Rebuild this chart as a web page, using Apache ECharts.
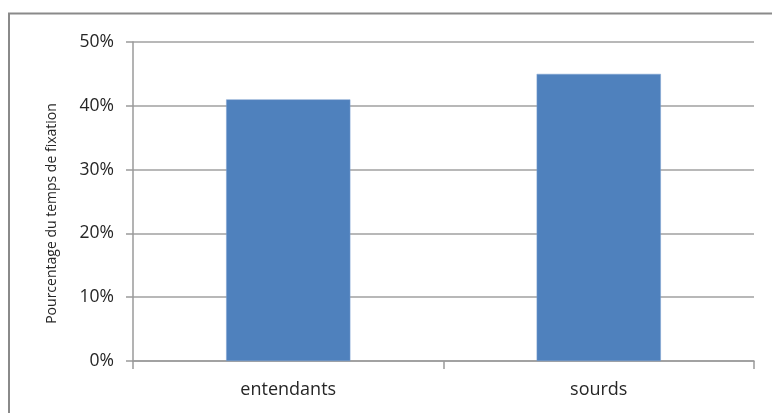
<!DOCTYPE html>
<html>
<head>
<meta charset="utf-8">
<style>
  html, body { margin: 0; padding: 0; background: #fff; }
  #chart { width: 772px; height: 413px; }
</style>
<script src="https://cdn.jsdelivr.net/npm/echarts@6/dist/echarts.min.js"></script>
</head>
<body>
<div id="chart"></div>
<script>
// Groups and their share of fixation time (%)
const groups = ['entendants', 'sourds'];
const fixationShare = [41, 45];
const yTicks = [0, 10, 20, 30, 40, 50];
const yTitle = 'Pourcentage du temps de fixation';

const chart = echarts.init(document.getElementById('chart'), null, { renderer: 'canvas' });

const FONT = '"Open Sans", "DejaVu Sans", sans-serif';

chart.setOption({
  animation: false,
  backgroundColor: '#ffffff',
  grid: { left: 133, right: 18, top: 42, bottom: 52, containLabel: false },
  graphic: [{
    type: 'polyline',
    shape: { points: [[9, 413], [9, 13.5], [772, 13.5]] },
    style: { stroke: '#8a8a8a', lineWidth: 2, fill: null },
    silent: true
  }],
  xAxis: {
    type: 'category',
    data: groups,
    boundaryGap: true,
    axisLine: { show: true, lineStyle: { color: '#9a9a9a', width: 1.5 } },
    axisTick: { show: true, length: 8, lineStyle: { color: '#9a9a9a', width: 1.5 } },
    axisLabel: { color: '#262626', fontFamily: FONT, fontSize: 18, margin: 20 }
  },
  yAxis: {
    type: 'value',
    min: yTicks[0],
    max: yTicks[yTicks.length - 1],
    interval: 10,
    name: yTitle,
    nameLocation: 'middle',
    nameGap: 74,
    nameRotate: 90,
    nameTextStyle: {
      color: '#262626', fontFamily: FONT, fontSize: 14,
      padding: [0, 24, 0, 0]
    },
    axisLine: { show: true, lineStyle: { color: '#9a9a9a', width: 1.5 } },
    axisTick: { show: true, length: 7, lineStyle: { color: '#9a9a9a', width: 1.5 } },
    axisLabel: {
      color: '#262626', fontFamily: FONT, fontSize: 17.5, margin: 19,
      formatter: v => v + '%'
    },
    splitLine: { show: true, lineStyle: { color: '#a0a0a0', width: 1.5 } }
  },
  series: [{
    type: 'bar',
    data: fixationShare,
    barWidth: '40%',
    itemStyle: { color: '#4f81bd', borderColor: '#7fa3d1', borderWidth: 0.5 }
  }]
});
</script>
</body>
</html>
